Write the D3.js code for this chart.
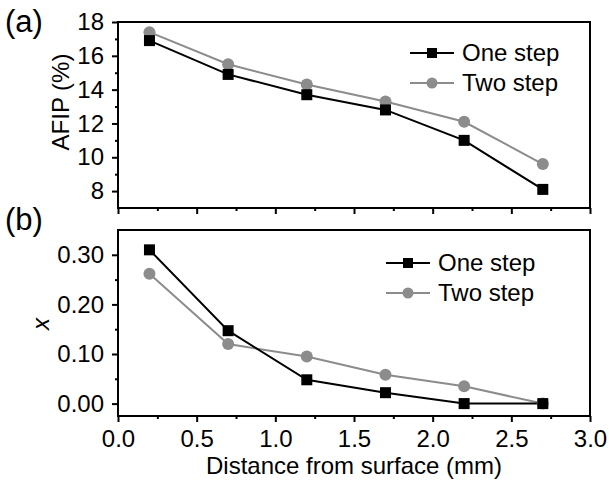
<!DOCTYPE html>
<html>
<head>
<meta charset="utf-8">
<script src="https://cdn.jsdelivr.net/npm/d3@7"></script>
<style>
  body { margin: 0; background: #fff; }
  text { font-family: "Liberation Sans", Arial, sans-serif; fill: #000; }
</style>
</head>
<body>
<div id="chart"></div>
<script>
// distance from surface (mm)
var distance = [0.2, 0.7, 1.2, 1.7, 2.2, 2.7];
// panel (a): AFIP (%)
var afipOne = [16.9, 14.9, 13.7, 12.8, 11.0, 8.1];
var afipTwo = [17.4, 15.5, 14.3, 13.3, 12.1, 9.6];
// panel (b): x
var xOne = [0.31, 0.147, 0.048, 0.022, 0.0, 0.0];
var xTwo = [0.262, 0.12, 0.095, 0.058, 0.035, 0.0];

var seriesNames = ["One step", "Two step"];
var xTicks = [0, 0.5, 1.0, 1.5, 2.0, 2.5, 3.0];
var afipTicks = [8, 10, 12, 14, 16, 18];
var xValTicks = [0, 0.1, 0.2, 0.3];

var width = 609,
    height = 481,
    left = 118,
    right = 590,
    fontSize = 24,
    grey = "#8c8c8c";

var svg = d3.select("#chart").append("svg")
    .attr("width", width)
    .attr("height", height);

var x = d3.scaleLinear().domain([0, 3]).range([left, right]);

// panel (a)
var yA = d3.scaleLinear().domain([7, 18]).range([208, 22]);
// panel (b)
var yB = d3.scaleLinear().domain([-0.025, 0.35]).range([416, 230]);

function panel(y, one, two, majors, minors, fmt, showX, legendX, legendY) {
  var g = svg.append("g");

  // minor ticks
  g.append("g").attr("transform", "translate(" + left + ",0)")
    .call(d3.axisLeft(y).tickValues(minors).tickSize(3).tickFormat(""))
    .call(function(a) { a.select(".domain").remove(); });
  g.append("g").attr("transform", "translate(0," + y.range()[0] + ")")
    .call(d3.axisBottom(x).tickValues(d3.range(0.25, 3, 0.5)).tickSize(3).tickFormat(""))
    .call(function(a) { a.select(".domain").remove(); });

  // major ticks
  var ya = g.append("g").attr("transform", "translate(" + left + ",0)")
    .call(d3.axisLeft(y).tickValues(majors).tickSize(6).tickPadding(8).tickFormat(fmt));
  ya.select(".domain").remove();
  var xa = g.append("g").attr("transform", "translate(0," + y.range()[0] + ")")
    .call(d3.axisBottom(x).tickValues(xTicks).tickSize(6).tickPadding(8)
      .tickFormat(showX ? d3.format(".1f") : ""));
  xa.select(".domain").remove();
  g.selectAll(".tick line").attr("stroke", "#000").attr("stroke-width", 2);
  g.selectAll(".tick text").style("font-size", fontSize + "px").attr("fill", "#000");

  // frame
  g.append("rect")
    .attr("x", left).attr("y", y.range()[1])
    .attr("width", right - left).attr("height", y.range()[0] - y.range()[1])
    .attr("fill", "none").attr("stroke", "#000").attr("stroke-width", 2);

  var line = d3.line()
    .x(function(d, i) { return x(distance[i]); })
    .y(function(d) { return y(d); });

  // two step first, one step on top
  g.append("path").datum(two).attr("d", line)
    .attr("fill", "none").attr("stroke", grey).attr("stroke-width", 2);
  g.append("path").datum(one).attr("d", line)
    .attr("fill", "none").attr("stroke", "#000").attr("stroke-width", 2);

  g.selectAll(".c").data(two).enter().append("circle")
    .attr("cx", function(d, i) { return x(distance[i]); })
    .attr("cy", function(d) { return y(d); })
    .attr("r", 6).attr("fill", grey);
  g.selectAll(".s").data(one).enter().append("rect")
    .attr("x", function(d, i) { return x(distance[i]) - 5.5; })
    .attr("y", function(d) { return y(d) - 5.5; })
    .attr("width", 11).attr("height", 11).attr("fill", "#000");

  // legend
  var lg = g.append("g").attr("transform", "translate(" + legendX + "," + legendY + ")");
  seriesNames.forEach(function(name, i) {
    var row = lg.append("g").attr("transform", "translate(0," + (i * 30) + ")");
    var c = i === 0 ? "#000" : grey;
    row.append("line").attr("x1", 0).attr("x2", 44).attr("y1", 0).attr("y2", 0)
      .attr("stroke", c).attr("stroke-width", 2);
    if (i === 0) {
      row.append("rect").attr("x", 22 - 5).attr("y", -5).attr("width", 10).attr("height", 10).attr("fill", c);
    } else {
      row.append("circle").attr("cx", 22).attr("cy", 0).attr("r", 5.5).attr("fill", c);
    }
    row.append("text").attr("x", 52).attr("y", 0).attr("dy", "0.35em")
      .style("font-size", fontSize + "px").text(name);
  });
}

panel(yA, afipOne, afipTwo, afipTicks, [9, 11, 13, 15, 17], d3.format("d"), false, 410, 53);
panel(yB, xOne, xTwo, xValTicks, [0.05, 0.15, 0.25], d3.format(".2f"), true, 386, 263);

// panel letters
svg.append("text").attr("x", 5).attr("y", 32).style("font-size", "31px").text("(a)");
svg.append("text").attr("x", 5).attr("y", 230).style("font-size", "31px").text("(b)");

// axis titles
svg.append("text")
  .attr("transform", "translate(61,102) rotate(-90)")
  .attr("text-anchor", "middle").attr("dy", "0.35em")
  .style("font-size", fontSize + "px").text("AFIP (%)");
svg.append("text")
  .attr("transform", "translate(42,324) rotate(-90)")
  .attr("text-anchor", "middle").attr("dy", "0.3em")
  .style("font-size", fontSize + "px").style("font-style", "italic").text("x");
svg.append("text")
  .attr("x", (left + right) / 2).attr("y", 474)
  .attr("text-anchor", "middle")
  .style("font-size", fontSize + "px").text("Distance from surface (mm)");
</script>
</body>
</html>
